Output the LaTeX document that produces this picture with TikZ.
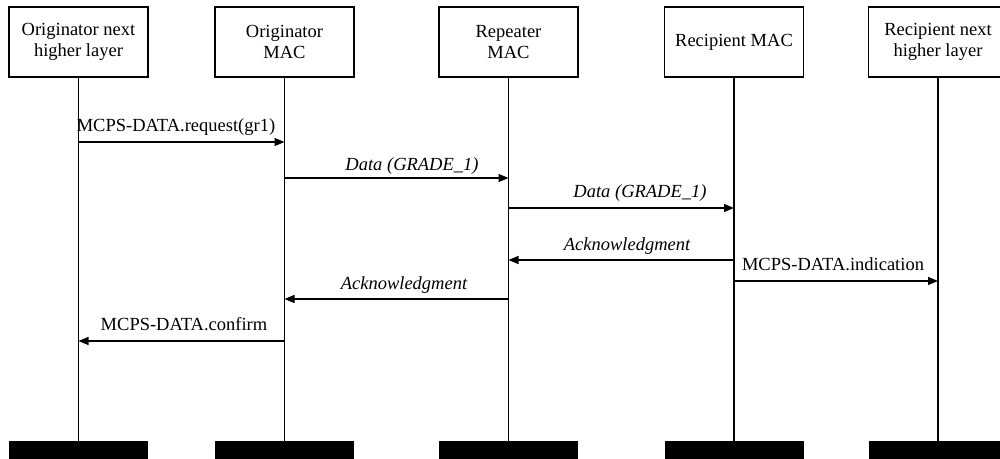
\documentclass[tikz,border=0pt]{standalone}
\usepackage{fontspec}
\setmainfont{Liberation Serif}
\usetikzlibrary{arrows.meta}
\begin{document}
\begin{tikzpicture}[x=1pt,y=-1pt,
  head/.style={draw,line width=1.3pt,minimum width=139pt,minimum height=70pt,inner sep=0pt,align=center,font=\fontsize{18.5}{21.5}\selectfont},
  bar/.style={fill=black,minimum width=139pt,minimum height=18pt,inner sep=0pt},
  life/.style={line width=1.3pt},
  msg/.style={line width=1.3pt,-{Triangle[length=10pt,width=8pt]}},
  lbl/.style={anchor=base,inner sep=0pt,font=\fontsize{18.5}{21.5}\selectfont},
  ilbl/.style={lbl,font=\fontsize{18.5}{21.5}\selectfont\itshape}]
\useasboundingbox (0,0) rectangle (1000,458);
\node[head] (h1) at (78.5,42) {Originator next\\higher layer};
\node[head] (h2) at (284.5,42) {Originator\\MAC};
\node[head] (h3) at (508.5,42) {Repeater\\MAC};
\node[head] (h4) at (734,42) {Recipient MAC};
\node[head] (h5) at (938,42) {Recipient next\\higher layer};
\foreach \i in {1,...,5} {
  \node[bar] (b\i) at (h\i.center |- 0,450) {};
  \draw[life] (h\i.south) -- (b\i.north);
}
% messages
\draw[msg] (h1.south |- 0,142) -- (h2.south |- 0,142);
\node[lbl] (t1) at (176,131) {MCPS-DATA.request(gr1)};
\draw[msg] (h2.south |- 0,178) -- (h3.south |- 0,178);
\node[ilbl] (t2) at (412,170) {Data (GRADE\_1)};
\draw[msg] (h3.south |- 0,208) -- (h4.south |- 0,208);
\node[ilbl] (t3) at (640,197) {Data (GRADE\_1)};
\draw[msg] (h4.south |- 0,260) -- (h3.south |- 0,260);
\node[ilbl] (t4) at (627,250) {Acknowledgment};
\draw[msg] (h4.south |- 0,281) -- (h5.south |- 0,281);
\node[lbl] (t5) at (833,270) {MCPS-DATA.indication};
\draw[msg] (h3.south |- 0,299) -- (h2.south |- 0,299);
\node[ilbl] (t6) at (404,289) {Acknowledgment};
\draw[msg] (h2.south |- 0,341) -- (h1.south |- 0,341);
\node[lbl] (t7) at (184,330) {MCPS-DATA.confirm};
\end{tikzpicture}
\end{document}
